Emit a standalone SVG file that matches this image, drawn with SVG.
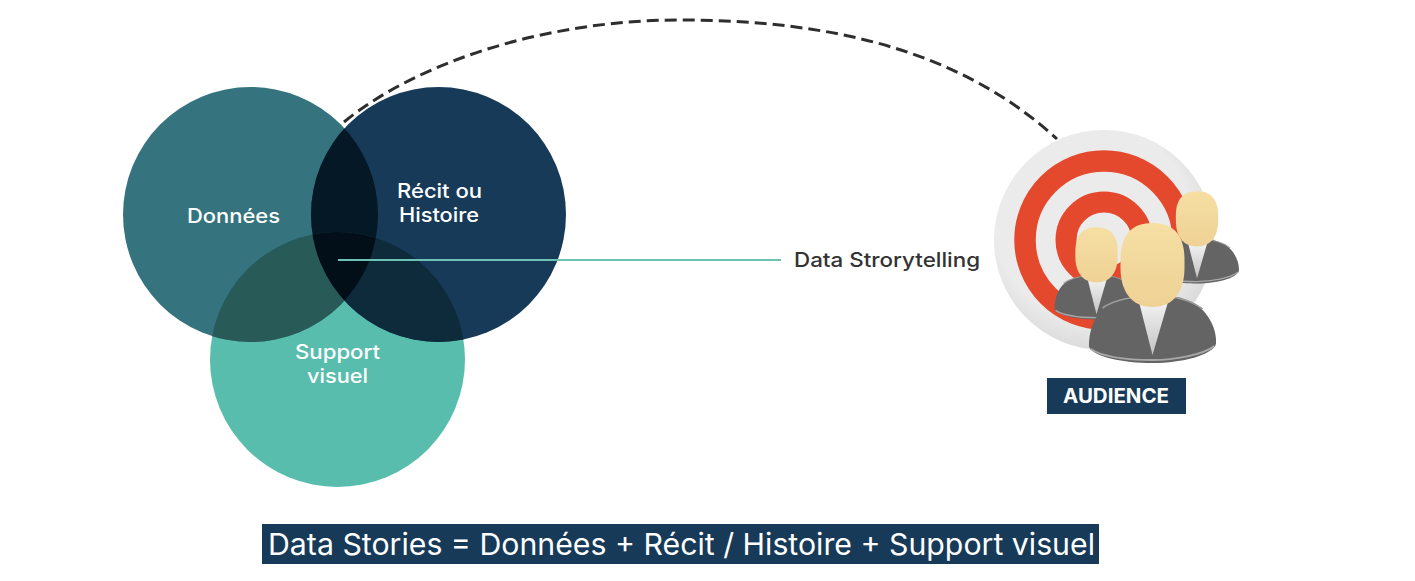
<svg xmlns="http://www.w3.org/2000/svg" xmlns:xlink="http://www.w3.org/1999/xlink" width="1415" height="581" viewBox="0 0 1415 581">
<style>
text{font-family:"Inter","Open Sans","Liberation Sans",sans-serif}
.lbl{fill:#fff;font-size:20px;font-weight:500}
</style>
<defs>
<clipPath id="cD"><circle cx="250.5" cy="214.5" r="127.5"/></clipPath>
<clipPath id="cR"><circle cx="438.5" cy="214.5" r="127.5"/></clipPath>
<clipPath id="cS"><circle cx="337.5" cy="359.5" r="127.5"/></clipPath>
<linearGradient id="head" x1="0" y1="0" x2="0" y2="1"><stop offset="0" stop-color="#f6dfa3"/><stop offset="1" stop-color="#eed195"/></linearGradient>
<linearGradient id="shirt" x1="0" y1="0" x2="0" y2="1"><stop offset="0" stop-color="#f2f2f2"/><stop offset="1" stop-color="#c4c4c4"/></linearGradient>
<radialGradient id="disc" cx="0.45" cy="0.42" r="0.62"><stop offset="0.72" stop-color="#ebebeb"/><stop offset="1" stop-color="#d6d6d6"/></radialGradient>
<g id="person">
<path d="M-63.5,125 C-64,106 -56,90 -44,83 C-30,75 -12,73 4,73 C24,73 42,78 52,90 C60,100 64,110 63.5,122 C60,133 30,141 0,141 C-30,141 -58,135 -63.5,125Z" fill="#646464"/>
<path d="M-62,127 C-48,136 -20,138 0,138 C22,138 50,133 62,124" fill="none" stroke="#a8a8a8" stroke-width="2"/>
<path d="M-50,86 C-36,76 -14,74 4,74 C24,74 38,78 50,87" fill="none" stroke="#9c9c9c" stroke-width="1.6"/>
<path d="M-13.5,80 L15.5,80 L0,133Z" fill="url(#shirt)"/>
<path d="M0,1 C25,1 32,18 32,38 L32,46 C32,68 22,85 0,85 C-22,85 -32,68 -32,46 L-32,38 C-32,18 -25,1 0,1Z" fill="url(#head)"/>
</g>
</defs>
<rect width="1415" height="581" fill="#fff"/>
<g id="connectors">
<path id="arc" d="M344,122 C420,60 550,20 680,20 C830,20 960,50 1057,139" fill="none" stroke="#2e2e2e" stroke-width="3" stroke-dasharray="12 6"/>
</g>
<g id="support"><circle cx="337.5" cy="359.5" r="127.5" fill="#58bdac"/></g>
<g id="donnees"><circle cx="250.5" cy="214.5" r="127.5" fill="#35747e"/></g>
<g id="recit"><circle cx="438.5" cy="214.5" r="127.5" fill="#173a59"/></g>
<g id="overlaps">
<circle cx="250.5" cy="214.5" r="127.5" fill="#051825" clip-path="url(#cR)"/>
<circle cx="250.5" cy="214.5" r="127.5" fill="#285a58" clip-path="url(#cS)"/>
<circle cx="438.5" cy="214.5" r="127.5" fill="#0e2b3b" clip-path="url(#cS)"/>
<g clip-path="url(#cS)"><circle cx="250.5" cy="214.5" r="127.5" fill="#030f18" clip-path="url(#cR)"/></g>
</g>
<text class="lbl" x="233.5" y="223" text-anchor="middle" textLength="93" lengthAdjust="spacingAndGlyphs">Données</text>
<text class="lbl" x="439.5" y="198" text-anchor="middle" textLength="85" lengthAdjust="spacingAndGlyphs">Récit ou</text>
<text class="lbl" x="439" y="222" text-anchor="middle" textLength="80" lengthAdjust="spacingAndGlyphs">Histoire</text>
<text class="lbl" x="337.5" y="359" text-anchor="middle" textLength="85" lengthAdjust="spacingAndGlyphs">Support</text>
<text class="lbl" x="337.5" y="383" text-anchor="middle" textLength="61" lengthAdjust="spacingAndGlyphs">visuel</text>
<g id="story-link">
<line x1="338" y1="260" x2="781" y2="260" stroke="#6cc2b5" stroke-width="2"/>
<text x="794" y="267" font-size="20" font-weight="500" fill="#333" textLength="186" lengthAdjust="spacingAndGlyphs">Data Strorytelling</text>
</g>
<g id="target">
<circle cx="1104" cy="240" r="110" fill="url(#disc)"/>
<circle cx="1104" cy="240" r="79" fill="none" stroke="#e5492d" stroke-width="21.5"/>
<circle cx="1104" cy="240" r="38" fill="none" stroke="#e5492d" stroke-width="21"/>
</g>
<g id="audience-icon">
<use xlink:href="#person" href="#person" transform="translate(1197,190.5) scale(0.66)"/>
<use xlink:href="#person" href="#person" transform="translate(1096.5,226.5) scale(0.66)"/>
<use xlink:href="#person" href="#person" transform="translate(1152.5,222)"/>
</g>
<g id="audience">
<rect x="1047" y="378" width="139" height="36" fill="#173a59"/>
<text x="1116" y="403" text-anchor="middle" font-size="20" font-weight="700" fill="#fff" textLength="106" lengthAdjust="spacingAndGlyphs">AUDIENCE</text>
</g>
<g id="formula">
<rect x="262" y="524" width="837" height="40" fill="#173a59"/>
<text x="268" y="555" font-size="30" fill="#fff" textLength="827" lengthAdjust="spacingAndGlyphs">Data Stories = Données + Récit / Histoire + Support visuel</text>
</g>
</svg>
